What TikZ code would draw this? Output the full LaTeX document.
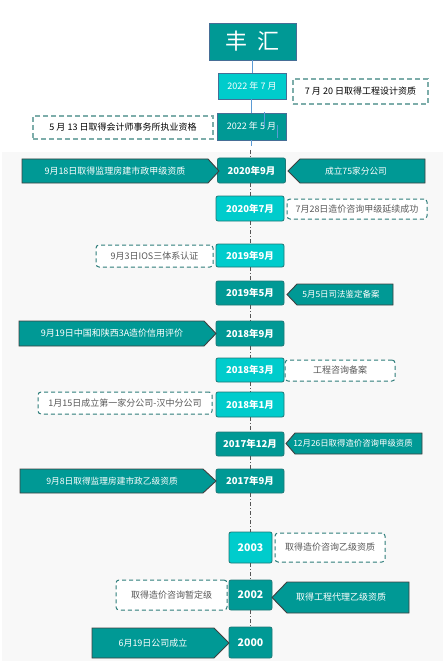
\documentclass[tikz,border=0pt]{standalone}
\usepackage{fontspec}
\setmainfont{Noto Sans CJK SC}
\definecolor{tealA}{RGB}{0,153,149}
\definecolor{cyanA}{RGB}{0,204,204}
\definecolor{topborder}{RGB}{70,110,150}
\definecolor{topline}{RGB}{91,155,213}
\definecolor{topdash}{RGB}{125,173,170}
\definecolor{boxborder}{RGB}{30,120,118}
\definecolor{arrborder}{RGB}{64,64,64}
\definecolor{gdash}{RGB}{46,125,122}
\definecolor{bggray}{RGB}{248,248,248}
\definecolor{txtgray}{RGB}{89,89,89}
\definecolor{connc}{RGB}{85,85,85}
\tikzset{
  topbox/.style={draw=topborder, line width=0.8pt, text=white, font=\fontsize{9}{10}\selectfont},
  topdashbox/.style={draw=topdash, line width=1.5pt, dash pattern=on 5pt off 3pt, fill=white, font=\fontsize{9}{10}\selectfont, text=black},
  datebox/.style={draw=boxborder, line width=0.8pt, rounded corners=2pt, text=white, minimum width=68pt, font=\bfseries\fontsize{9.5}{10}\selectfont},
  yearbox/.style={datebox, minimum width=43pt, font=\bfseries\fontsize{10.5}{11}\selectfont},
  dashbox/.style={draw=gdash, line width=1pt, dash pattern=on 4pt off 3pt, rounded corners=3pt, fill=white, text=txtgray, font=\fontsize{9}{10}\selectfont},
  arrowsh/.style={draw=arrborder, line width=0.9pt, fill=tealA},
  arrtext/.style={text=white, font=\fontsize{9}{10}\selectfont},
  conn/.style={draw=connc, line width=0.8pt, dash pattern=on 4pt off 2pt on 1pt off 2pt},
  topconn/.style={draw=topline, line width=0.8pt}
}
\begin{document}
\begin{tikzpicture}[x=1pt,y=-1pt, every node/.style={inner sep=0pt}]
\useasboundingbox (0,0) rectangle (445,663);
\fill[bggray] (2,152) rectangle (443,661);

% top part
\node[topbox, fill=tealA, minimum width=87pt, minimum height=37pt, font=\fontsize{22}{24}\selectfont] (title) at (252.5,41.5) {丰\hspace{0.45em}汇};
\node[topbox, fill=cyanA, minimum width=68pt, minimum height=26pt] (d1) at (252,86) {2022 年 7 月};
\node[topdashbox, minimum width=135pt, minimum height=25pt] (r1) at (360.5,91.5) {7 月 20 日取得工程设计资质};
\node[topbox, fill=tealA, minimum width=69pt, minimum height=27pt] (d2) at (251.5,126.5) {2022 年 5 月};
\node[topdashbox, minimum width=180pt, minimum height=23pt] (l1) at (123,127.5) {5 月 13 日取得会计师事务所执业资格};
\coordinate (topend) at (251.5,146);
\draw[topconn] (title.south -| d1.north) -- (d1.north);
\draw[topconn] (d1.south -| d2.north) -- (d2.north);
\draw[topconn] (d2.south) -- (topend);
\draw[topconn] (264,112) -- (264,127);
\draw[topconn] (277,125) -- (277,138);

% timeline boxes
\node[datebox, fill=tealA, minimum height=25pt] (a1) at (251.5,170.5) {2020年9月};
\node[datebox, fill=cyanA, minimum height=25pt] (a2) at (250,208.5) {2020年7月};
\node[datebox, fill=cyanA, minimum height=23pt] (a3) at (250,255.5) {2019年9月};
\node[datebox, fill=tealA, minimum height=24pt] (a4) at (250,293) {2019年5月};
\node[datebox, fill=tealA, minimum height=25pt] (a5) at (250,333.5) {2018年9月};
\node[datebox, fill=cyanA, minimum height=24pt] (a6) at (250,370) {2018年3月};
\node[datebox, fill=cyanA, minimum height=25pt] (a7) at (250,404.5) {2018年1月};
\node[datebox, fill=tealA, minimum height=24pt] (a8) at (250,444) {2017年12月};
\node[datebox, fill=tealA, minimum height=24pt] (a9) at (250,481) {2017年9月};
\node[yearbox, fill=cyanA, minimum height=31pt] (a10) at (250.5,547.5) {2003};
\node[yearbox, fill=tealA, minimum height=30pt] (a11) at (250.5,595) {2002};
\node[yearbox, fill=tealA, minimum height=31pt] (a12) at (250.5,642.5) {2000};

% connectors
\coordinate (gtop) at (250.5,150);
\draw[conn] (gtop) -- (gtop |- a1.north);
\draw[conn] (a2.north |- a1.south) -- (a2.north);
\draw[conn] (a2.south) -- (a3.north);
\draw[conn] (a3.south) -- (a4.north);
\draw[conn] (a4.south) -- (a5.north);
\draw[conn] (a5.south) -- (a6.north);
\draw[conn] (a6.south) -- (a7.north);
\draw[conn] (a7.south) -- (a8.north);
\draw[conn] (a8.south) -- (a9.north);
\draw[conn] (a9.south -| a10.north) -- (a10.north);
\draw[conn] (a10.south) -- (a11.north);
\draw[conn] (a11.south) -- (a12.north);

% arrow shapes
\draw[arrowsh] (22,159) -- (208,159) -- (219,171) -- (208,183) -- (22,183) -- cycle;
\node[arrtext] (e1) at (115,171) {9月18日取得监理房建市政甲级资质};
\draw[arrowsh] (425,159) -- (300,159) -- (288,171) -- (300,183) -- (425,183) -- cycle;
\node[arrtext, font=\fontsize{8.7}{10}\selectfont] (e2) at (356,171) {成立75家分公司};
\draw[arrowsh] (393,284) -- (297,284) -- (287,294.5) -- (297,305) -- (393,305) -- cycle;
\node[arrtext, font=\fontsize{8.5}{10}\selectfont] (e3) at (341,294.5) {5月5日司法鉴定备案};
\draw[arrowsh] (19,321) -- (204,321) -- (216,333.5) -- (204,346) -- (19,346) -- cycle;
\node[arrtext] (e4) at (112,333.5) {9月19日中国和陕西3A造价信用评价};
\draw[arrowsh] (422,433) -- (295,433) -- (286,443.5) -- (295,454) -- (422,454) -- cycle;
\node[arrtext, font=\fontsize{8.4}{10}\selectfont] (e5) at (353,443.5) {12月26日取得造价咨询甲级资质};
\draw[arrowsh] (20,469) -- (203,469) -- (216,481) -- (203,493) -- (20,493) -- cycle;
\node[arrtext, font=\fontsize{8.7}{10}\selectfont] (e6) at (112,481) {9月8日取得监理房建市政乙级资质};
\draw[arrowsh] (409,582) -- (287,582) -- (272,597.5) -- (287,613) -- (409,613) -- cycle;
\node[arrtext] (e7) at (341,597.5) {取得工程代理乙级资质};
\draw[arrowsh] (92,628) -- (214,628) -- (229,643) -- (214,658) -- (92,658) -- cycle;
\node[arrtext] (e8) at (153,643) {6月19日公司成立};

% dashed boxes
\node[dashbox, minimum width=140pt, minimum height=20pt] (r2) at (357,209) {7月28日造价咨询甲级延续成功};
\node[dashbox, minimum width=117pt, minimum height=22pt] (l3) at (154.5,256) {9月3日IOS三体系认证};
\node[dashbox, minimum width=110pt, minimum height=21pt] (r6) at (340,370.5) {工程咨询备案};
\node[dashbox, minimum width=174pt, minimum height=22pt] (l7) at (125,403) {1月15日成立第一家分公司-汉中分公司};
\node[dashbox, minimum width=110pt, minimum height=29pt] (r10) at (330,547.5) {取得造价咨询乙级资质};
\node[dashbox, minimum width=111pt, minimum height=30pt] (l11) at (171.5,595) {取得造价咨询暂定级};
\end{tikzpicture}
\end{document}
